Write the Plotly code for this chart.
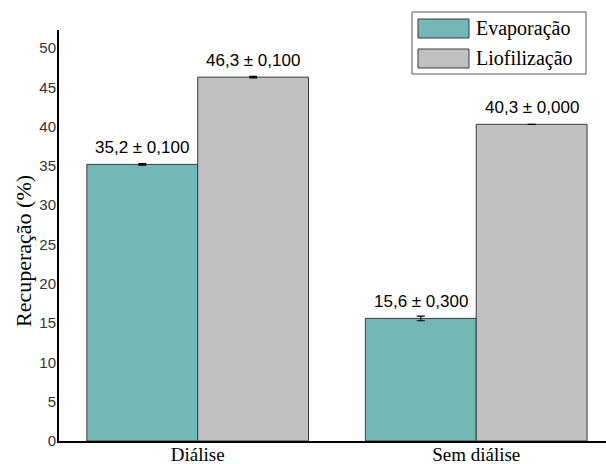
import plotly.graph_objects as go

# Data
groups = ["Diálise", "Sem diálise"]
series = ["Evaporação", "Liofilização"]
evaporacao = [35.2, 15.6]
evaporacao_err = [0.100, 0.300]
liofilizacao = [46.3, 40.3]
liofilizacao_err = [0.100, 0.000]
colors = ["#72b8b6", "#c0c0c0"]
y_ticks = [0, 5, 10, 15, 20, 25, 30, 35, 40, 45, 50]

W, H = 606, 464
ML, MR, MT, MB = 59, 0, 30, 23
BARGAP = 0.204
bar_w = (1 - BARGAP) / 2
xpos = list(range(len(groups)))

fig = go.Figure()
values = [evaporacao, liofilizacao]
errors = [evaporacao_err, liofilizacao_err]
for s, (name, vals, errs, col) in enumerate(zip(series, values, errors, colors)):
    fig.add_trace(go.Bar(
        x=xpos, y=vals, name=name,
        marker=dict(color=col, line=dict(color="#3a3a3a", width=1)),
        error_y=dict(type="data", array=errs, visible=True,
                     color="black", thickness=1.2, width=4),
        showlegend=False,
    ))
    # value ± error labels above each bar
    offset = (s - 0.5) * bar_w
    for xi, v, e in zip(xpos, vals, errs):
        fig.add_annotation(
            x=xi + offset, y=v, xref="x", yref="y",
            text=f"{v:.1f} ± {e:.3f}".replace(".", ","),
            showarrow=False, yanchor="bottom", yshift=5,
            font=dict(family="Arial, Liberation Sans", size=17, color="black"),
        )

pw, ph = W - ML - MR, H - MT - MB


def px_x(p):
    return (p - ML) / pw


def px_y(p):
    return (H - MB - p) / ph


# Legend box with wide swatches
fig.add_shape(type="rect", xref="paper", yref="paper",
              x0=px_x(412), x1=px_x(586), y0=px_y(74), y1=px_y(12),
              line=dict(color="#555555", width=1), fillcolor="white")
rows = [(19, 38), (49, 68)]
for (top, bot), name, col in zip(rows, series, colors):
    fig.add_shape(type="rect", xref="paper", yref="paper",
                  x0=px_x(418), x1=px_x(469), y0=px_y(bot), y1=px_y(top),
                  line=dict(color="#3a3a3a", width=1), fillcolor=col)
    fig.add_annotation(x=px_x(474), y=px_y((top + bot) / 2), xref="paper", yref="paper",
                       text=name, showarrow=False, xanchor="left", yanchor="middle",
                       font=dict(family="Liberation Serif, Times New Roman", size=20, color="black"))

# Y axis title
fig.add_annotation(x=px_x(23), y=px_y(251), xref="paper", yref="paper",
                   text="Recuperação (%)", textangle=-90, showarrow=False,
                   xanchor="center", yanchor="middle",
                   font=dict(family="Liberation Serif, Times New Roman", size=22, color="black"))

fig.update_layout(
    width=W, height=H,
    margin=dict(l=ML, r=MR, t=MT, b=MB, pad=0, autoexpand=False),
    paper_bgcolor="white", plot_bgcolor="white",
    barmode="group", bargap=BARGAP, bargroupgap=0,
    showlegend=False,
    xaxis=dict(
        range=[-0.498, 1.466], tickvals=xpos, ticktext=groups,
        showgrid=False, zeroline=False, ticks="",
        showline=True, linecolor="black", linewidth=2,
        tickfont=dict(family="Liberation Serif, Times New Roman", size=19, color="black"),
        ticklabelstandoff=-5, automargin=False,
    ),
    yaxis=dict(
        range=[0, 52.3], tickvals=y_ticks,
        showgrid=False, zeroline=False, ticks="",
        showline=True, linecolor="black", linewidth=2,
        tickfont=dict(family="Arial, Liberation Sans", size=15, color="#333333"),
        ticklabelstandoff=-2, automargin=False,
    ),
)

fig.write_html("out.html")
